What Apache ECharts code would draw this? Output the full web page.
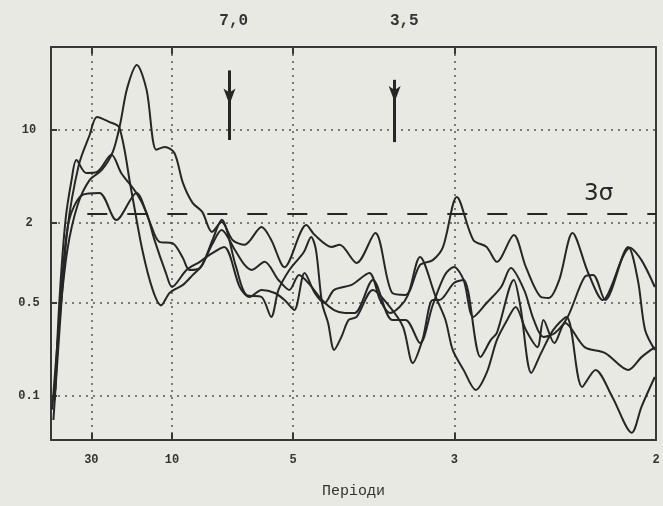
<!DOCTYPE html>
<html>
<head>
<meta charset="utf-8">
<script src="https://cdn.jsdelivr.net/npm/echarts@6/dist/echarts.min.js"></script>
<style>
html, body { margin: 0; padding: 0; background: #e9e9e3; }
#box1 { width: 663px; height: 506px; }
</style>
</head>
<body>
<div id="box1"></div>
<script>
/* spectra: [frequency = 1/period, power] */
var curveA = [[0.001,0.079],[0.007,0.37],[0.0135,1.25],[0.022,2.73],[0.032,4.21],[0.042,5.0],[0.051,6.8],[0.057,10.9],[0.063,20.7],[0.071,30.8],[0.079,20.0],[0.087,7.1],[0.094,7.45],[0.102,6.7],[0.109,4.0],[0.117,2.83],[0.125,2.42],[0.133,1.71],[0.141,2.03],[0.150,1.49],[0.160,1.37],[0.174,1.86],[0.182,1.49],[0.193,0.93],[0.211,1.93],[0.218,1.62],[0.232,1.32],[0.2385,1.37],[0.2526,1.0],[0.268,1.68],[0.282,0.595],[0.293,0.574],[0.305,0.966],[0.3155,1.05],[0.324,1.32],[0.3354,3.13],[0.349,1.49],[0.360,1.32],[0.3685,1.02],[0.3825,1.62],[0.3925,0.93],[0.405,0.555],[0.4115,0.546],[0.420,0.745],[0.431,1.68],[0.444,0.84],[0.456,0.527],[0.4785,1.30],[0.488,1.05],[0.499,0.66]];
var curveB = [[0.002,0.066],[0.007,0.31],[0.0135,1.77],[0.023,5.46],[0.032,9.2],[0.038,12.5],[0.048,11.5],[0.0565,10.4],[0.066,3.66],[0.0755,1.25],[0.084,0.63],[0.091,0.48],[0.098,0.595],[0.109,0.684],[0.117,0.81],[0.125,0.966],[0.1335,1.49],[0.141,2.11],[0.153,0.93],[0.1616,0.574],[0.174,0.555],[0.182,0.393],[0.188,0.627],[0.197,0.886],[0.209,1.21],[0.215,1.57],[0.219,1.25],[0.224,0.50],[0.229,0.354],[0.234,0.222],[0.240,0.278],[0.246,0.373],[0.2526,0.393],[0.266,0.627],[0.280,0.467],[0.291,0.33],[0.299,0.177],[0.307,0.264],[0.3155,0.527],[0.321,0.527],[0.333,0.708],[0.341,0.745],[0.355,0.196],[0.3635,0.264],[0.3685,0.298],[0.3825,0.745],[0.388,0.467],[0.397,0.149],[0.405,0.21],[0.415,0.313],[0.426,0.393],[0.439,0.117],[0.450,0.157],[0.464,0.098],[0.480,0.053],[0.488,0.083],[0.499,0.139]];
var curveC = [[0.003,0.093],[0.007,0.527],[0.012,2.1],[0.017,4.2],[0.021,5.95],[0.029,4.75],[0.038,4.83],[0.050,6.5],[0.058,4.75],[0.0706,3.36],[0.079,2.38],[0.0855,1.49],[0.095,0.84],[0.100,0.66],[0.112,0.886],[0.123,1.02],[0.131,1.15],[0.143,1.32],[0.156,0.66],[0.164,0.555],[0.174,0.627],[0.185,0.595],[0.193,0.527],[0.201,0.443],[0.2096,0.84],[0.218,0.595],[0.226,0.50],[0.234,0.627],[0.2485,0.684],[0.263,0.84],[0.272,0.527],[0.280,0.421],[0.288,0.467],[0.295,0.574],[0.305,1.11],[0.318,0.555],[0.326,0.373],[0.332,0.222],[0.341,0.157],[0.351,0.111],[0.360,0.149],[0.3685,0.264],[0.377,0.373],[0.384,0.467],[0.3925,0.313],[0.402,0.233],[0.407,0.373],[0.416,0.25],[0.425,0.354],[0.441,0.233],[0.458,0.21],[0.477,0.157],[0.488,0.196],[0.499,0.233]];
var curveD = [[0.0036,0.111],[0.0085,0.627],[0.015,2.1],[0.026,3.25],[0.040,3.36],[0.054,2.1],[0.0706,3.36],[0.081,2.1],[0.0896,1.44],[0.1004,1.41],[0.109,1.09],[0.1144,0.886],[0.123,0.917],[0.133,1.37],[0.141,1.77],[0.152,1.25],[0.160,0.966],[0.166,0.886],[0.1765,1.02],[0.188,0.745],[0.197,0.627],[0.205,0.812],[0.214,0.684],[0.224,0.527],[0.234,0.443],[0.243,0.421],[0.251,0.421],[0.266,0.745],[0.282,0.373],[0.293,0.373],[0.305,0.25],[0.3155,0.483],[0.3255,0.812],[0.333,0.933],[0.341,0.745],[0.349,0.393],[0.360,0.50],[0.372,0.66],[0.380,0.917],[0.391,0.627],[0.399,0.373],[0.407,0.278],[0.4165,0.298],[0.427,0.393],[0.441,0.785],[0.448,0.812],[0.458,0.527],[0.477,1.32],[0.485,0.745],[0.491,0.313],[0.499,0.222]];

var periodTicks = [30, 10, 5, 3, 2];
var powerTicks = [0.1, 0.5, 2, 10];
var sigmaLevel = 2.33;      // 3 sigma
var sigmaStart = 0.03;
var arrowFreq = [0.1475, 0.284];
var arrowTop = [28, 23.8];
var arrowBottom = [8.4, 8.1];
var arrowHead = [15.5, 16.2];
var arrowText = ['7,0', '3,5'];
var arrowTextFreq = [0.151, 0.292];

var font = 'Liberation Mono';
var ink = '#262626';
var freqTicks = periodTicks.map(function (p) { return 1 / p; });

var dom = document.getElementById('box1');
var myChart = echarts.init(dom);

var frameLine = { show: true, onZero: false, lineStyle: { color: '#383838', width: 2 } };
var dotted = { show: true, lineStyle: { color: '#555', type: [2, 5], width: 1.5 } };

function lineSeries(d) {
    return {
        type: 'line', data: d, symbol: 'none', smooth: 0.3,
        lineStyle: { color: ink, width: 2 }, animation: false, silent: true
    };
}

var series = [lineSeries(curveA), lineSeries(curveB), lineSeries(curveC), lineSeries(curveD)];

// 3 sigma level + arrows
series[0].markLine = {
    silent: true, symbol: 'none', animation: false,
    data: [
        [{ coord: [sigmaStart, sigmaLevel], lineStyle: { type: [20, 20], width: 2, color: ink } }, { coord: [0.5, sigmaLevel] }],
        [{ coord: [arrowFreq[0], arrowTop[0]], lineStyle: { type: 'solid', width: 3, color: ink } }, { coord: [arrowFreq[0], arrowBottom[0]] }],
        [{ coord: [arrowFreq[1], arrowTop[1]], lineStyle: { type: 'solid', width: 3, color: ink } }, { coord: [arrowFreq[1], arrowBottom[1]] }]
    ],
    label: { show: false }
};
series[0].markPoint = {
    silent: true, animation: false, symbol: 'arrow', symbolSize: [9, 16], symbolRotate: 180,
    itemStyle: { color: ink }, label: { show: false },
    data: [
        { coord: [arrowFreq[0], arrowHead[0]] },
        { coord: [arrowFreq[1], arrowHead[1]] }
    ]
};

option = {
    backgroundColor: '#e9e9e3',
    grid: { left: 51, right: 7, top: 47, bottom: 66 },
    xAxis: [
        {
            type: 'value', min: 0, max: 0.5, position: 'bottom',
            axisLine: frameLine,
            axisTick: { show: true, inside: true, length: 7, customValues: freqTicks, lineStyle: { color: '#383838', width: 2 } },
            axisLabel: {
                customValues: freqTicks, margin: 14, color: '#333', fontFamily: font, fontWeight: 'bold', fontSize: 12,
                formatter: function (v) { return String(Math.round(1 / v)); }
            },
            splitLine: dotted,
            name: 'Періоди', nameLocation: 'middle', nameGap: 44,
            nameTextStyle: { fontFamily: font, fontSize: 15, color: '#333' }
        },
        {
            type: 'value', min: 0, max: 0.5, position: 'top',
            axisLine: frameLine,
            axisTick: { show: true, inside: true, length: 7, customValues: freqTicks, lineStyle: { color: '#383838', width: 2 } },
            axisLabel: {
                customValues: arrowTextFreq, margin: 18, color: '#333', fontFamily: font, fontWeight: 'bold', fontSize: 16,
                formatter: function (v) {
                    var best = 0;
                    arrowTextFreq.forEach(function (f, i) { if (Math.abs(f - v) < Math.abs(arrowTextFreq[best] - v)) best = i; });
                    return arrowText[best];
                }
            },
            splitLine: { show: false }
        }
    ],
    yAxis: [
        {
            type: 'log', min: 0.0467, max: 42,
            axisLine: frameLine,
            axisTick: { show: true, inside: true, length: 6, customValues: powerTicks, lineStyle: { color: '#383838', width: 2 } },
            axisLabel: {
                customValues: powerTicks, margin: 22, align: 'center', color: '#333', fontFamily: font, fontWeight: 'bold', fontSize: 12,
                formatter: function (v) { return String(Number(Number(v).toPrecision(2))); }
            },
            splitLine: dotted
        },
        {
            type: 'log', min: 0.0467, max: 42, position: 'right',
            axisLine: frameLine, axisTick: { show: false }, axisLabel: { show: false }, splitLine: { show: false }
        }
    ],
    graphic: [{
        type: 'text', left: 584, top: 183,
        style: { text: '3σ', fontFamily: 'DejaVu Sans', fontSize: 23, fill: ink }
    }],
    series: series
};

if (option && typeof option === "object") {
    myChart.setOption(option, true);
}
</script>
</body>
</html>
